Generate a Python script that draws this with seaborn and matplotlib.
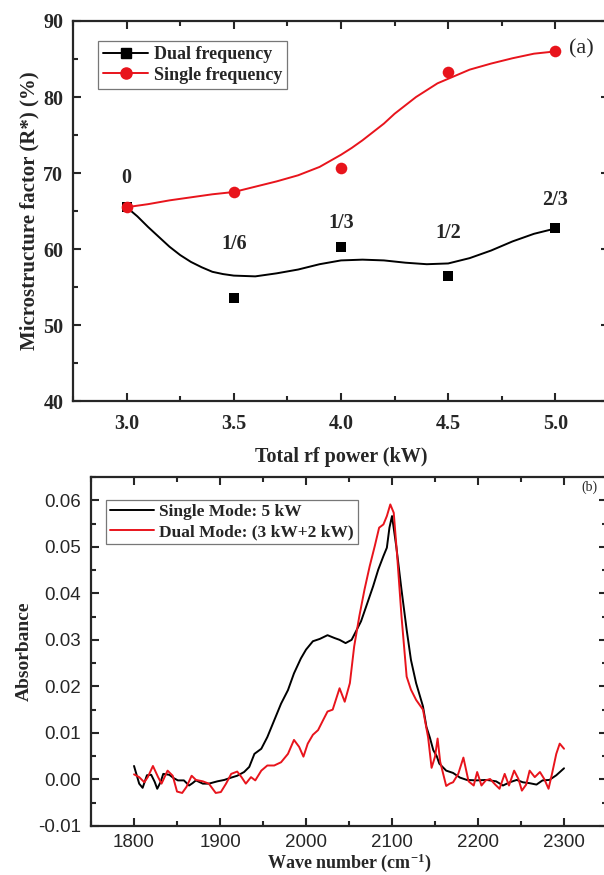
import numpy as np
import pandas as pd
import matplotlib
matplotlib.use("Agg")
import matplotlib.pyplot as plt
from matplotlib.lines import Line2D
from matplotlib.ticker import MultipleLocator, FormatStrFormatter
import seaborn as sns

# Panel (a): measured points
power = [3.0, 3.5, 4.0, 4.5, 5.0]
dual_r = [65.5, 53.6, 60.2, 56.4, 62.7]
single_r = [65.5, 67.5, 70.7, 83.3, 86.0]
ratio_labels = ["0", "1/6", "1/3", "1/2", "2/3"]
label_y = [69.3, 60.7, 63.4, 62.1, 66.5]

# Panel (a): smoothed curves
dual_curve_x = [3.0, 3.05, 3.1, 3.15, 3.2, 3.25, 3.3, 3.35, 3.4, 3.45, 3.5, 3.6, 3.7,
                3.8, 3.9, 4.0, 4.1, 4.2, 4.3, 4.4, 4.5, 4.6, 4.7, 4.8, 4.9, 5.0]
dual_curve = [65.5, 64.3, 62.9, 61.6, 60.3, 59.2, 58.3, 57.6, 57.0, 56.7, 56.5, 56.4,
              56.8, 57.3, 58.0, 58.5, 58.6, 58.5, 58.2, 58.0, 58.1, 58.8, 59.8, 61.0,
              62.0, 62.7]
single_curve_x = [3.0, 3.1, 3.2, 3.3, 3.4, 3.5, 3.6, 3.7, 3.8, 3.9, 4.0, 4.05, 4.1,
                  4.15, 4.2, 4.25, 4.3, 4.35, 4.4, 4.45, 4.5, 4.55, 4.6, 4.7, 4.8,
                  4.9, 5.0]
single_curve = [65.5, 65.9, 66.4, 66.8, 67.2, 67.5, 68.2, 68.9, 69.7, 70.8, 72.4, 73.3,
                74.3, 75.4, 76.5, 77.8, 78.9, 80.0, 80.9, 81.8, 82.4, 83.0, 83.6, 84.4,
                85.1, 85.7, 86.0]

# Panel (b): FTIR spectra
single_wn = [1800, 1803, 1806, 1810, 1815, 1820, 1824, 1827, 1831, 1834, 1841, 1846,
             1851, 1858, 1864, 1868, 1872, 1880, 1887, 1897, 1905, 1913, 1920, 1928,
             1934, 1940, 1948, 1955, 1963, 1971, 1979, 1986, 1994, 2000, 2008, 2016,
             2025, 2033, 2039, 2046, 2053, 2058, 2064, 2070, 2078, 2084, 2090, 2094,
             2097, 2100, 2105, 2111, 2117, 2122, 2128, 2136, 2140, 2144, 2148, 2152,
             2155, 2163, 2171, 2179, 2187, 2198, 2210, 2221, 2229, 2237, 2245, 2252,
             2260, 2268, 2275, 2283, 2291, 2300]
single_abs = [0.0029, 0.0010, -0.0009, -0.0018, 0.0009, 0.0010, -0.0005, -0.0020,
              -0.0005, 0.0012, 0.0010, 0.0003, -0.0002, -0.0002, -0.0013, -0.0008,
              -0.0002, -0.0009, -0.0009, -0.0004, -0.0001, 0.0004, 0.0008, 0.0016,
              0.0027, 0.0055, 0.0066, 0.0091, 0.0127, 0.0163, 0.0192, 0.0228, 0.0260,
              0.0279, 0.0297, 0.0302, 0.0310, 0.0304, 0.0300, 0.0293, 0.0300, 0.0318,
              0.0340, 0.0372, 0.0415, 0.0451, 0.0480, 0.0498, 0.0541, 0.0566, 0.0500,
              0.0408, 0.0322, 0.0257, 0.0207, 0.0157, 0.0113, 0.0090, 0.0063, 0.0050,
              0.0034, 0.0019, 0.0014, 0.0004, -0.0001, -0.0002, -0.0001, -0.0004,
              -0.0013, -0.0006, -0.0001, -0.0006, -0.0008, -0.0011, -0.0002, -0.0001,
              0.0009, 0.0024]

dual_wn = [1800, 1806, 1812, 1816, 1822, 1828, 1832, 1839, 1845, 1850, 1856, 1861,
           1867, 1872, 1880, 1887, 1895, 1901, 1907, 1913, 1920, 1925, 1930, 1936,
           1941, 1948, 1955, 1963, 1971, 1979, 1986, 1992, 1997, 2002, 2008, 2014,
           2020, 2025, 2031, 2039, 2045, 2051, 2056, 2062, 2068, 2074, 2080, 2085,
           2090, 2094, 2098, 2102, 2106, 2111, 2117, 2122, 2128, 2136, 2142, 2146,
           2150, 2153, 2156, 2163, 2167, 2171, 2177, 2183, 2189, 2195, 2199, 2204,
           2209, 2214, 2220, 2225, 2231, 2236, 2242, 2247, 2251, 2256, 2260, 2266,
           2272, 2277, 2282, 2286, 2291, 2295, 2300]
dual_abs = [0.0011, 0.0005, -0.0006, 0.0005, 0.0029, 0.0005, -0.0009, 0.0019, 0.0008,
            -0.0026, -0.0029, -0.0016, 0.0008, -0.0001, -0.0004, -0.0009, -0.0029,
            -0.0027, -0.0009, 0.0012, 0.0017, 0.0005, -0.0009, 0.0005, -0.0002,
            0.0019, 0.0030, 0.0030, 0.0037, 0.0055, 0.0085, 0.0070, 0.0049, 0.0077,
            0.0096, 0.0106, 0.0128, 0.0146, 0.0150, 0.0196, 0.0167, 0.0207, 0.0286,
            0.0351, 0.0408, 0.0458, 0.0502, 0.0541, 0.0548, 0.0566, 0.0591, 0.0573,
            0.0480, 0.0351, 0.0221, 0.0193, 0.0171, 0.0150, 0.0090, 0.0025, 0.0049,
            0.0088, 0.0038, -0.0014, -0.0009, -0.0006, 0.0012, 0.0047, -0.0004,
            -0.0013, 0.0016, -0.0013, -0.0002, 0.0001, -0.0011, -0.0020, 0.0012,
            -0.0013, 0.0019, 0.0001, -0.0024, -0.0011, 0.0019, 0.0005, 0.0016,
            0.0001, -0.0020, 0.0012, 0.0055, 0.0077, 0.0066]

sns.set_theme(style="ticks")
plt.rcParams['font.family'] = ['Liberation Serif', 'DejaVu Serif']
plt.rcParams['axes.unicode_minus'] = False
plt.rcParams['axes.linewidth'] = 1.6
plt.rcParams['mathtext.fontset'] = 'custom'
plt.rcParams['mathtext.rm'] = 'Liberation Serif:bold'
plt.rcParams['mathtext.default'] = 'rm'

RED = "#e8141c"

fig = plt.figure(figsize=(6.04, 8.75), dpi=100)
ax1 = fig.add_axes([0.1209, 0.5417, 0.8874, 0.4343])
ax2 = fig.add_axes([0.1507, 0.0560, 0.8543, 0.3989])

# ---- panel (a)
dcurve = pd.DataFrame({"x": dual_curve_x, "y": dual_curve})
scurve = pd.DataFrame({"x": single_curve_x, "y": single_curve})
pts = pd.DataFrame({"x": power, "dual": dual_r, "single": single_r})
sns.lineplot(data=dcurve, x="x", y="y", color="black", lw=1.4, ax=ax1)
sns.lineplot(data=scurve, x="x", y="y", color=RED, lw=1.4, ax=ax1)
sns.scatterplot(data=pts, x="x", y="dual", marker="s", s=55, color="black",
                edgecolor="black", linewidth=0, ax=ax1, zorder=3)
sns.scatterplot(data=pts, x="x", y="single", marker="o", s=70, color=RED,
                edgecolor=RED, linewidth=0, ax=ax1, zorder=4)
for xv, yv, lab in zip(power, label_y, ratio_labels):
    ax1.text(xv, yv, lab, ha="center", va="center", fontsize=14.5, fontweight="bold")
ax1.text(5.065, 86.3, "(a)", ha="left", va="center", fontsize=16)

ax1.set_xlim(2.75, 5.25)
ax1.set_ylim(40, 90)
ax1.xaxis.set_major_locator(MultipleLocator(0.5))
ax1.xaxis.set_minor_locator(MultipleLocator(0.25))
ax1.yaxis.set_major_locator(MultipleLocator(10))
ax1.yaxis.set_minor_locator(MultipleLocator(5))
ax1.xaxis.set_major_formatter(FormatStrFormatter("%.1f"))
ax1.set_xlabel("Total rf power (kW)", fontsize=14.5, fontweight="bold", labelpad=10)
ax1.set_ylabel("Microstructure factor (R*) (%)", fontsize=15, fontweight="bold", labelpad=3)

handles = [Line2D([], [], color="black", lw=1.4, marker="s", ms=7),
           Line2D([], [], color=RED, lw=1.4, marker="o", ms=8)]
leg1 = ax1.legend(handles, ["Dual frequency", "Single frequency"], loc="upper left",
                  bbox_to_anchor=(0.046, 0.948), frameon=True, fancybox=False,
                  edgecolor="#555555", prop={"size": 13, "weight": "bold"},
                  handlelength=2.5, borderpad=0.3, labelspacing=0.2, handletextpad=0.3,
                  borderaxespad=0)
leg1.get_frame().set_linewidth(0.9)

# ---- panel (b)
sdf = pd.DataFrame({"wn": single_wn, "A": single_abs})
ddf = pd.DataFrame({"wn": dual_wn, "A": dual_abs})
sns.lineplot(data=sdf, x="wn", y="A", color="black", lw=1.4, ax=ax2,
             label="Single Mode: 5 kW")
sns.lineplot(data=ddf, x="wn", y="A", color=RED, lw=1.4, ax=ax2,
             label="Dual Mode: (3 kW+2 kW)")
ax2.text(2330, 0.0627, "(b)", ha="center", va="center", fontsize=10)

ax2.set_xlim(1750, 2350)
ax2.set_ylim(-0.01, 0.065)
ax2.xaxis.set_major_locator(MultipleLocator(100))
ax2.xaxis.set_minor_locator(MultipleLocator(50))
ax2.yaxis.set_major_locator(MultipleLocator(0.01))
ax2.yaxis.set_minor_locator(MultipleLocator(0.005))
ax2.yaxis.set_major_formatter(FormatStrFormatter("%.2f"))
ax2.set_xlabel("Wave number (cm$^{-1}$)", fontsize=13, fontweight="bold", labelpad=0)
ax2.set_ylabel("Absorbance", fontsize=14, fontweight="bold", labelpad=4)
leg2 = ax2.legend(loc="upper left", bbox_to_anchor=(0.029, 0.934), frameon=True,
                  fancybox=False, edgecolor="#555555",
                  prop={"size": 12.5, "weight": "bold"}, handlelength=2.5,
                  borderpad=0.25, labelspacing=0.2, handletextpad=0.3,
                  borderaxespad=0)
leg2.get_frame().set_linewidth(0.9)

for ax in (ax1, ax2):
    ax.tick_params(which="both", direction="in", top=True, right=True, width=1.5)
    ax.tick_params(which="major", length=6)
    ax.tick_params(which="minor", length=3.5)
    for sp in ax.spines.values():
        sp.set_visible(True)
        sp.set_linewidth(1.6)

ax1.tick_params(axis="x", which="major", pad=9)
ax1.tick_params(axis="y", which="major", pad=7)
ax2.tick_params(axis="x", which="major", pad=6)
ax2.tick_params(axis="y", which="major", pad=7)

for lab in ax1.get_xticklabels() + ax1.get_yticklabels():
    lab.set_fontsize(14.5)
    lab.set_fontweight("bold")
for lab in ax2.get_xticklabels() + ax2.get_yticklabels():
    lab.set_fontsize(13.5)
    lab.set_family(["Liberation Sans", "DejaVu Sans"])

fig.savefig("out.png", dpi=100)
